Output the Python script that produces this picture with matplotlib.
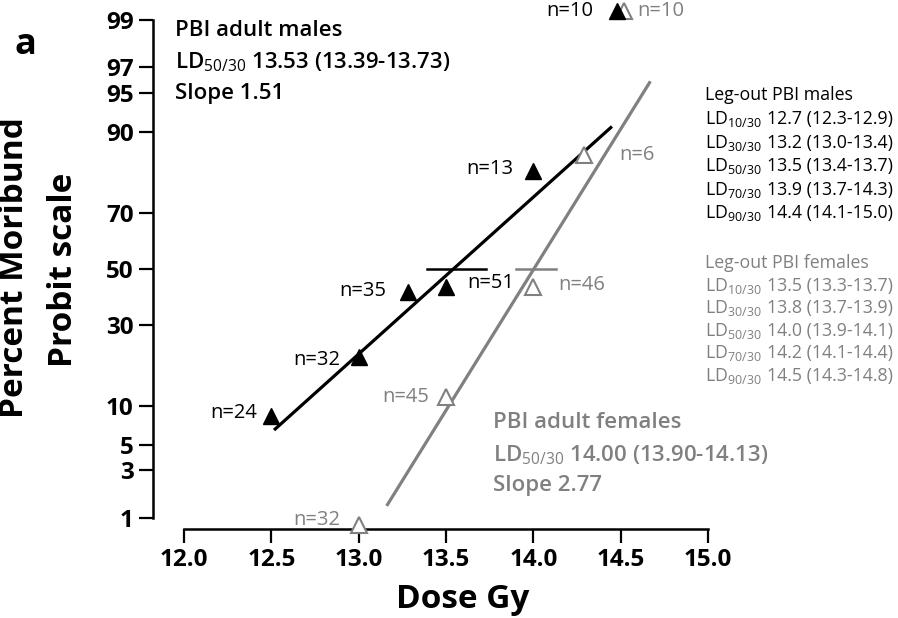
import math
import matplotlib
matplotlib.use('Agg')
import matplotlib.pyplot as plt

plt.rcParams['font.family'] = ['Open Sans', 'DejaVu Sans']
plt.rcParams['mathtext.fontset'] = 'custom'
plt.rcParams['mathtext.rm'] = 'Open Sans'
plt.rcParams['mathtext.it'] = 'Open Sans:italic'
plt.rcParams['mathtext.bf'] = 'Open Sans:bold'

GRAY = '#808080'

# data (percent moribund vs dose)
male_dose = [12.5, 13.0, 13.28, 13.5, 14.0, 14.48]
male_pct = [8.5, 20.6, 41.5, 43.3, 82.0, 99.2]
male_n = [24, 32, 35, 51, 13, 10]

female_dose = [13.0, 13.5, 14.0, 14.29, 14.52]
female_pct = [0.84, 11.6, 43.3, 85.7, 99.2]
female_n = [32, 45, 46, 6, 10]

male_fit_dose = [12.515, 14.45]
male_fit_pct = [6.6, 90.8]
female_fit_dose = [13.16, 14.67]
female_fit_pct = [1.34, 96.0]

male_ld50_ci = [13.39, 13.73]
female_ld50_ci = [13.90, 14.13]

y_ticks = [1, 3, 5, 10, 30, 50, 70, 90, 95, 97, 99]
x_ticks = [12.0, 12.5, 13.0, 13.5, 14.0, 14.5, 15.0]

ld_levels = ['10', '30', '50', '70', '90']
male_ld = ['12.7 (12.3-12.9)', '13.2 (13.0-13.4)', '13.5 (13.4-13.7)',
           '13.9 (13.7-14.3)', '14.4 (14.1-15.0)']
female_ld = ['13.5 (13.3-13.7)', '13.8 (13.7-13.9)', '14.0 (13.9-14.1)',
             '14.2 (14.1-14.4)', '14.5 (14.3-14.8)']

# label offsets in pixels (dx, dy up)
male_off = [(-14, 3), (-18, -3), (-21, 1), (21, 4), (-20, 2), (-24, 0)]
female_off = [(-18, 5), (-17, 0), (25, 2), (35, 0), (13, 0)]


def probit(p):
    q = p / 100.0
    lo, hi = -8.0, 8.0
    for _ in range(80):
        mid = (lo + hi) / 2
        if 0.5 * (1 + math.erf(mid / math.sqrt(2))) < q:
            lo = mid
        else:
            hi = mid
    return (lo + hi) / 2


def pr(vals):
    return [probit(v) for v in vals]


W, H = 898, 618
fig = plt.figure(figsize=(W / 100, H / 100), dpi=100)
ax = fig.add_axes([153 / W, (H - 529) / H, (708 - 153) / W, 529 / H])
ax.set_xlim(11.822, 15.0)
ax.set_ylim(-2.43, 2.51)

# fit lines and CI bars
ax.plot(male_fit_dose, pr(male_fit_pct), color='black', lw=2.3, solid_capstyle='butt')
ax.plot(female_fit_dose, pr(female_fit_pct), color=GRAY, lw=2.3, solid_capstyle='butt')
ax.plot(male_ld50_ci, pr([50, 50]), color='black', lw=1.8)
ax.plot(female_ld50_ci, pr([50, 50]), color=GRAY, lw=1.8)

# points
ax.plot(female_dose, pr(female_pct), '^', ms=11, mfc='white', mec=GRAY, mew=1.5,
        clip_on=False, zorder=3)
ax.plot(male_dose, pr(male_pct), '^', ms=11, color='black', clip_on=False, zorder=4)

for d, p, n, (dx, dy) in zip(male_dose, pr(male_pct), male_n, male_off):
    ax.annotate('n=%d' % n, (d, p), xytext=(dx * 0.72, dy * 0.72), textcoords='offset points',
                ha='right' if dx < 0 else 'left', va='center', fontsize=14.5, color='black')
for d, p, n, (dx, dy) in zip(female_dose, pr(female_pct), female_n, female_off):
    ax.annotate('n=%d' % n, (d, p), xytext=(dx * 0.72, dy * 0.72), textcoords='offset points',
                ha='right' if dx < 0 else 'left', va='center', fontsize=14.5, color=GRAY)

# axes styling
for s in ['top', 'right']:
    ax.spines[s].set_visible(False)
ax.spines['left'].set_linewidth(1.8)
ax.spines['bottom'].set_linewidth(1.8)
ax.spines['left'].set_bounds(probit(1), probit(99))
ax.spines['bottom'].set_bounds(12.0, 15.0)
ax.set_yticks(pr(y_ticks))
ax.set_yticklabels([str(t) for t in y_ticks])
ax.set_xticks(x_ticks)
ax.set_xticklabels(['%.1f' % t for t in x_ticks])
ax.tick_params(axis='both', direction='out', length=10, width=1.6, labelsize=17.5, pad=4)
for lab in ax.get_xticklabels() + ax.get_yticklabels():
    lab.set_fontweight('bold')


def px(x, y):
    return x / W, 1 - y / H


fig.text(*px(463, 599), 'Dose Gy', ha='center', va='center', fontsize=24,
         fontweight='bold')
fig.text(*px(15, 268), 'Percent Moribund', rotation=90, ha='center', va='center',
         fontsize=24, fontweight='bold')
fig.text(*px(64, 270), 'Probit scale', rotation=90, ha='center', va='center',
         fontsize=24, fontweight='bold')
fig.text(*px(25, 45), 'a', ha='center', va='center', fontsize=26, fontweight='bold')

# male summary
fig.text(*px(175, 30), 'PBI adult males', ha='left', va='center', fontsize=16,
         fontweight='semibold')
fig.text(*px(175, 62), r'LD$_{50/30}$ 13.53 (13.39-13.73)', ha='left', va='center',
         fontsize=16, fontweight='semibold')
fig.text(*px(175, 93), 'Slope 1.51', ha='left', va='center', fontsize=16,
         fontweight='semibold')

# female summary
fig.text(*px(493, 423), 'PBI adult females', ha='left', va='center', fontsize=16,
         fontweight='semibold', color=GRAY)
fig.text(*px(493, 455), r'LD$_{50/30}$ 14.00 (13.90-14.13)', ha='left', va='center',
         fontsize=16, fontweight='semibold', color=GRAY)
fig.text(*px(493, 486), 'Slope 2.77', ha='left', va='center', fontsize=16,
         fontweight='semibold', color=GRAY)

# leg-out tables
fig.text(*px(705, 95), 'Leg-out PBI males', ha='left', va='center', fontsize=12.8,
         color='black')
for i, (lv, val) in enumerate(zip(ld_levels, male_ld)):
    y = 119 + i * 23.6
    fig.text(*px(705, y), r'LD$_{%s/30}$' % lv, ha='left', va='center', fontsize=12.8)
    fig.text(*px(767, y), val, ha='left', va='center', fontsize=12.8)

fig.text(*px(705, 263), 'Leg-out PBI females', ha='left', va='center', fontsize=12.8,
         color=GRAY)
for i, (lv, val) in enumerate(zip(ld_levels, female_ld)):
    y = 286 + i * 22.4
    fig.text(*px(705, y), r'LD$_{%s/30}$' % lv, ha='left', va='center', fontsize=12.8,
             color=GRAY)
    fig.text(*px(767, y), val, ha='left', va='center', fontsize=12.8, color=GRAY)

fig.savefig('out.png', dpi=100)
